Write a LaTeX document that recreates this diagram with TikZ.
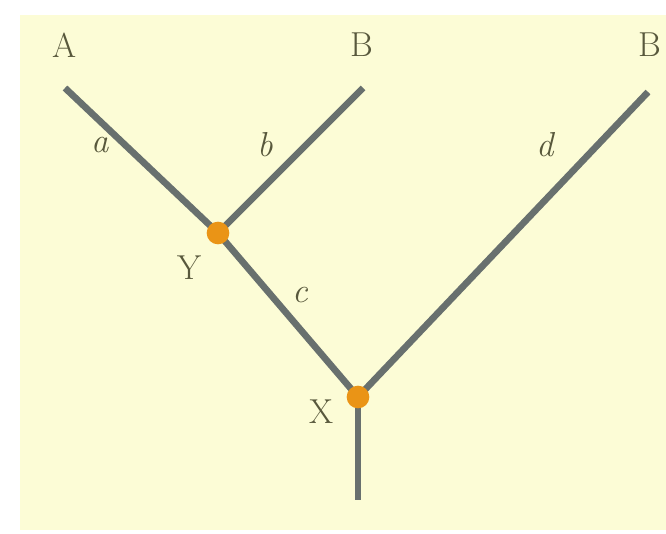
\documentclass[tikz,border=0pt]{standalone}
\definecolor{branchgray}{RGB}{104,112,110}
\definecolor{bgyellow}{RGB}{252,252,214}
\definecolor{dotorange}{RGB}{234,148,22}
\definecolor{lblcol}{RGB}{88,88,60}
\begin{document}
\begin{tikzpicture}[x=0.75pt,y=-0.75pt,
  branch/.style={draw=branchgray, line width=5pt},
  dot/.style={circle, fill=dotorange, inner sep=0pt, minimum size=17pt},
  lbl/.style={text=lblcol, font=\fontsize{26}{30}\selectfont, inner sep=0pt},
  elbl/.style={lbl, font=\fontsize{26}{30}\selectfont\itshape}]
\useasboundingbox (0,0) rectangle (666,534);
\fill[white] (0,0) rectangle (666,534);
\fill[bgyellow] (20,15) rectangle (666,530);
\node[lbl] (A) at (65,45) {A};
\node[lbl] (B) at (362,45) {B};
\node[lbl] (C) at (650,45) {B};
\coordinate (a0) at (65,88);
\coordinate (b0) at (363,88);
\coordinate (c0) at (648,92);
\coordinate (Yc) at (218,233);
\coordinate (Xc) at (358,397);
\coordinate (root) at (358,500);
\draw[branch] (a0) -- (Yc);
\draw[branch] (b0) -- (Yc);
\draw[branch] (Yc) -- (Xc);
\draw[branch] (c0) -- (Xc);
\draw[branch] (Xc) -- (root);
\node[dot] (Y) at (Yc) {};
\node[dot] (X) at (Xc) {};
\node[lbl] (Yl) at (190,268) {Y};
\node[lbl] (Xl) at (322,412) {X};
\node[elbl] (al) at (100,145) {a};
\node[elbl] (bl) at (265,145) {b};
\node[elbl] (cl) at (300,295) {c};
\node[elbl] (dl) at (545,145) {d};
\end{tikzpicture}
\end{document}
